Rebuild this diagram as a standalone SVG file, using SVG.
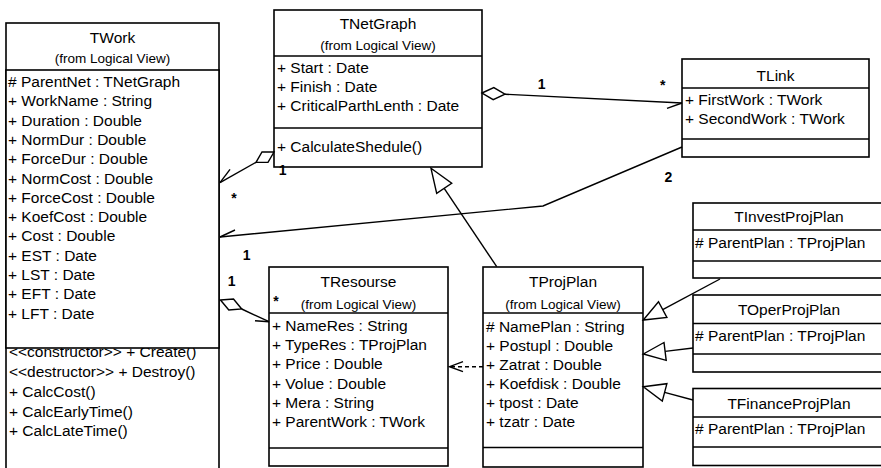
<svg xmlns="http://www.w3.org/2000/svg" width="881" height="468" viewBox="0 0 881 468">
<style>
.box{fill:#fff;stroke:#000;stroke-width:1.6}
.sep{stroke:#000;stroke-width:1.6}
text{font-family:"Liberation Sans",Arial,sans-serif;fill:#000}
.t{font-size:15.5px;text-anchor:middle}
.s{font-size:13.5px;text-anchor:middle}
.a{font-size:15.5px}
.m{font-size:14px;font-weight:bold;text-anchor:middle}
.ln{fill:none;stroke:#000;stroke-width:1.4}
.dia{fill:#fff;stroke:#000;stroke-width:1.4}
.tri{fill:#fff;stroke:#000;stroke-width:1.4}
</style>
<rect width="881" height="468" fill="#fff"/>

<g id="TWork">
<rect class="box" x="6" y="23" width="213" height="470"/>
<text class="a" x="9" y="357">&lt;&lt;constructor&gt;&gt; + Create()</text>
<text class="a" x="9" y="377">&lt;&lt;destructor&gt;&gt; + Destroy()</text>
<text class="a" x="9" y="397">+ CalcCost()</text>
<text class="a" x="9" y="416.5">+ CalcEarlyTime()</text>
<text class="a" x="9" y="436">+ CalcLateTime()</text>
<rect class="box" x="6" y="70" width="213" height="278"/>
<text class="t" x="112.5" y="43">TWork</text>
<text class="s" x="112.5" y="63">(from Logical View)</text>
<text class="a" x="8" y="87">
<tspan x="8" y="87"># ParentNet : TNetGraph</tspan>
<tspan x="8" y="106.3">+ WorkName : String</tspan>
<tspan x="8" y="125.6">+ Duration : Double</tspan>
<tspan x="8" y="144.9">+ NormDur : Double</tspan>
<tspan x="8" y="164.2">+ ForceDur : Double</tspan>
<tspan x="8" y="183.5">+ NormCost : Double</tspan>
<tspan x="8" y="202.8">+ ForceCost : Double</tspan>
<tspan x="8" y="222.1">+ KoefCost : Double</tspan>
<tspan x="8" y="241.4">+ Cost : Double</tspan>
<tspan x="8" y="260.7">+ EST : Date</tspan>
<tspan x="8" y="280">+ LST : Date</tspan>
<tspan x="8" y="299.3">+ EFT : Date</tspan>
<tspan x="8" y="318.6">+ LFT : Date</tspan>
</text>
</g>

<g id="TNetGraph">
<rect class="box" x="274" y="10" width="208" height="157"/>
<line class="sep" x1="274" y1="56" x2="482" y2="56"/>
<line class="sep" x1="274" y1="128" x2="482" y2="128"/>
<text class="t" x="378" y="28.5">TNetGraph</text>
<text class="s" x="378" y="49.5">(from Logical View)</text>
<text class="a" x="277" y="73">+ Start : Date</text>
<text class="a" x="277" y="92">+ Finish : Date</text>
<text class="a" x="277" y="110.5">+ CriticalParthLenth : Date</text>
<text class="a" x="277" y="152">+ CalculateShedule()</text>
</g>

<g id="TLink">
<rect class="box" x="682" y="59" width="187" height="98"/>
<line class="sep" x1="682" y1="88" x2="869" y2="88"/>
<line class="sep" x1="682" y1="139" x2="869" y2="139"/>
<text class="t" x="775.5" y="81">TLink</text>
<text class="a" x="685" y="104.5">+ FirstWork : TWork</text>
<text class="a" x="685" y="123.5">+ SecondWork : TWork</text>
</g>

<g id="TResourse">
<rect class="box" x="269" y="267" width="179" height="199"/>
<line class="sep" x1="269" y1="313" x2="448" y2="313"/>
<line class="sep" x1="269" y1="448" x2="448" y2="448"/>
<text class="t" x="358.5" y="287">TResourse</text>
<text class="s" x="358.5" y="308.5">(from Logical View)</text>
<text class="a" x="272" y="331">+ NameRes : String</text>
<text class="a" x="272" y="350">+ TypeRes : TProjPlan</text>
<text class="a" x="272" y="369.3">+ Price : Double</text>
<text class="a" x="272" y="388.5">+ Volue : Double</text>
<text class="a" x="272" y="407.7">+ Mera : String</text>
<text class="a" x="272" y="427">+ ParentWork : TWork</text>
</g>

<g id="TProjPlan">
<rect class="box" x="483" y="267" width="160" height="200"/>
<line class="sep" x1="483" y1="313" x2="643" y2="313"/>
<line class="sep" x1="483" y1="447.5" x2="643" y2="447.5"/>
<text class="t" x="563" y="287">TProjPlan</text>
<text class="s" x="563" y="308.5">(from Logical View)</text>
<text class="a" x="486" y="331.7"># NamePlan : String</text>
<text class="a" x="486" y="350.5">+ Postupl : Double</text>
<text class="a" x="486" y="369.5">+ Zatrat : Double</text>
<text class="a" x="486" y="388.5">+ Koefdisk : Double</text>
<text class="a" x="486" y="407.7">+ tpost : Date</text>
<text class="a" x="486" y="427">+ tzatr : Date</text>
</g>

<g id="TInvestProjPlan">
<rect class="box" x="693" y="203" width="192" height="75"/>
<line class="sep" x1="693" y1="230" x2="885" y2="230"/>
<line class="sep" x1="693" y1="261" x2="885" y2="261"/>
<text class="t" x="789" y="222">TInvestProjPlan</text>
<text class="a" x="695" y="248"># ParentPlan : TProjPlan</text>
</g>

<g id="TOperProjPlan">
<rect class="box" x="693" y="295" width="192" height="77"/>
<line class="sep" x1="693" y1="323.5" x2="885" y2="323.5"/>
<line class="sep" x1="693" y1="354" x2="885" y2="354"/>
<text class="t" x="789" y="315">TOperProjPlan</text>
<text class="a" x="695" y="340.5"># ParentPlan : TProjPlan</text>
</g>

<g id="TFinanceProjPlan">
<rect class="box" x="693" y="388.5" width="192" height="77"/>
<line class="sep" x1="693" y1="417" x2="885" y2="417"/>
<line class="sep" x1="693" y1="447" x2="885" y2="447"/>
<text class="t" x="789" y="408.5">TFinanceProjPlan</text>
<text class="a" x="695" y="433.5"># ParentPlan : TProjPlan</text>
</g>

<g id="connectors">
<!-- TNetGraph - TLink aggregation -->
<polygon class="dia" points="482,93 493.8,87.6 505,94.2 493.2,99.6"/>
<line class="ln" x1="505" y1="94.2" x2="682" y2="103"/>
<line class="ln" x1="667" y1="108.3" x2="682" y2="103"/>
<!-- TNetGraph - TWork aggregation -->
<polygon class="dia" points="274,152 262,152 256,162.3 268,162.4"/>
<line class="ln" x1="256" y1="162.3" x2="220" y2="182.7"/>
<line class="ln" x1="220" y1="182.7" x2="230" y2="169.3"/>
<!-- TWork - TLink -->
<polyline class="ln" points="220,237 543,206 682,147"/>
<line class="ln" x1="220" y1="237" x2="235" y2="230"/>
<!-- TWork - TResourse aggregation -->
<polygon class="dia" points="220.5,300 233.5,299 241.7,309 228.8,310"/>
<line class="ln" x1="241.7" y1="309" x2="269" y2="321.7"/>
<line class="ln" x1="255" y1="320.7" x2="269" y2="321.7"/>
<!-- TProjPlan - TResourse dependency -->
<line class="ln" x1="483" y1="366.7" x2="450" y2="366.7" stroke-dasharray="4,3"/>
<polyline class="ln" points="463,361.7 449.5,366.7 463,371.7"/>
<!-- TProjPlan -> TNetGraph generalization -->
<line class="ln" x1="496.7" y1="266.7" x2="444.2" y2="188.3"/>
<polygon class="tri" points="431,168.3 451.7,183.3 436.7,193.3"/>
<!-- TInvestProjPlan -> TProjPlan -->
<line class="ln" x1="720" y1="279" x2="662.7" y2="309.6"/>
<polygon class="tri" points="643.3,320 658.5,301.7 666.9,317.5"/>
<!-- TOperProjPlan -> TProjPlan -->
<line class="ln" x1="693" y1="348" x2="665.1" y2="351.4"/>
<polygon class="tri" points="643.3,354 664,342.5 666.2,360.3"/>
<!-- TFinanceProjPlan -> TProjPlan -->
<line class="ln" x1="693" y1="400" x2="664.6" y2="392.4"/>
<polygon class="tri" points="643.3,386.7 666.9,383.7 662.3,401.1"/>
<!-- multiplicities -->
<text class="m" x="541.7" y="89">1</text>
<text class="m" x="662.7" y="90">*</text>
<text class="m" x="668.3" y="182">2</text>
<text class="m" x="234" y="203">*</text>
<text class="m" x="282.7" y="175">1</text>
<text class="m" x="246.7" y="260">1</text>
<text class="m" x="231.7" y="285.5">1</text>
<text class="m" x="276" y="306">*</text>
</g>
</svg>
